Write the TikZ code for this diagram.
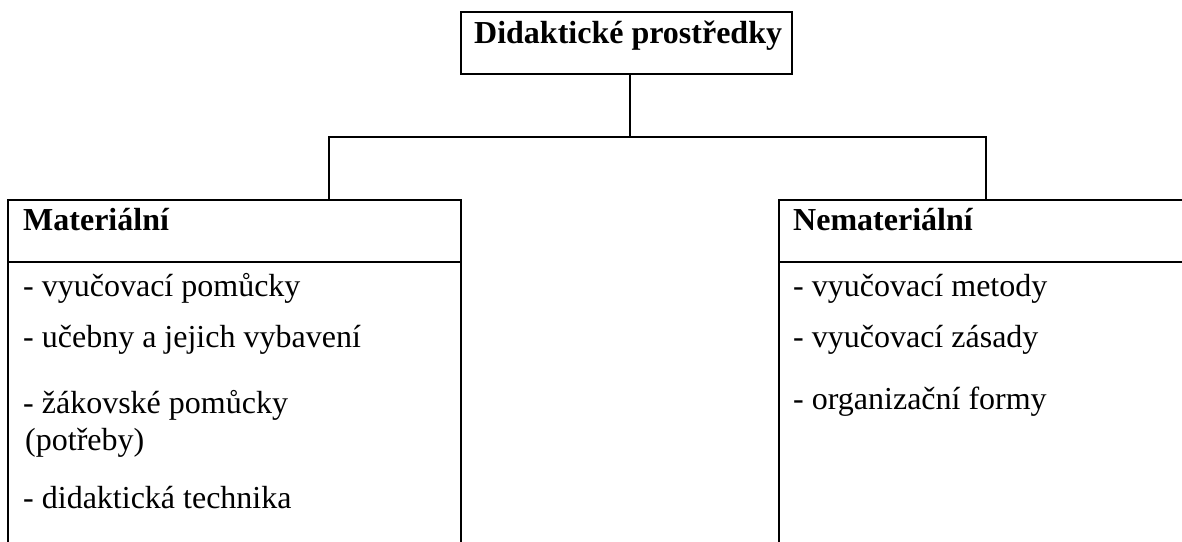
\documentclass[tikz,border=0pt]{standalone}
\usepackage{fontspec}
\setmainfont{Liberation Serif}
\begin{document}
\begin{tikzpicture}[x=1pt,y=1pt,
  frame/.style={draw=black,line width=2pt,rectangle,inner sep=0pt,outer sep=0pt},
  txt/.style={anchor=base west,inner sep=0pt,font=\fontsize{32}{36}\selectfont},
  btxt/.style={txt,font=\fontsize{32}{36}\selectfont\bfseries},
  link/.style={draw=black,line width=2pt}]
\clip (0,0) rectangle (1182,-541);
% top box
\node[frame,minimum width=331pt,minimum height=62pt,anchor=north west] (top) at (460.5,-12) {};
\node[btxt] (toptxt) at (474,-43) {Didaktické prostředky};
% left box
\node[frame,minimum width=453pt,minimum height=62pt,anchor=north west] (matH) at (8,-200) {};
\node[frame,minimum width=453pt,minimum height=320pt,anchor=north west] (matB) at (matH.south west) {};
\node[btxt] (matT) at (23,-230) {Materiální};
\node[txt] (m1) at (23,-296) {- vyučovací pomůcky};
\node[txt] (m2) at (23,-347) {- učebny a jejich vybavení};
\node[txt] (m3) at (23,-413) {- žákovské pomůcky};
\node[txt] (m4) at (25,-450) {(potřeby)};
\node[txt] (m5) at (23,-508) {- didaktická technika};
% right box
\node[frame,minimum width=440pt,minimum height=62pt,anchor=north west] (nemH) at (779,-200) {};
\node[frame,minimum width=440pt,minimum height=320pt,anchor=north west] (nemB) at (nemH.south west) {};
\node[btxt] (nemT) at (793,-230) {Nemateriální};
\node[txt] (n1) at (793,-296) {- vyučovací metody};
\node[txt] (n2) at (793,-347) {- vyučovací zásady};
\node[txt] (n3) at (793,-409) {- organizační formy};
% connectors
\coordinate (jT) at (630,-137);
\coordinate (jL) at (329,-137);
\coordinate (jR) at (986,-137);
\draw[link] (jT |- top.south) -- (jT);
\draw[link] (jL |- matH.north) -- (jL) -- (jR) -- (jR |- nemH.north);
\end{tikzpicture}
\end{document}
